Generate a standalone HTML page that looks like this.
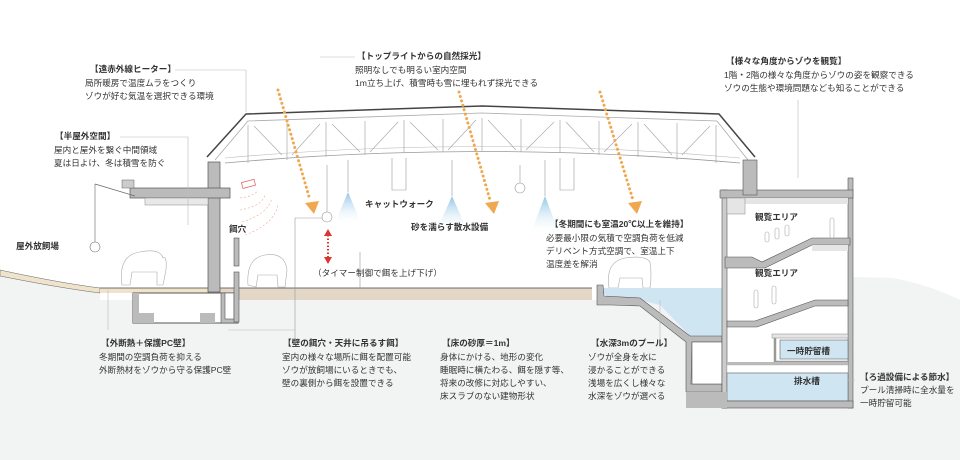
<!DOCTYPE html>
<html><head><meta charset="utf-8"><style>
html,body{margin:0;padding:0;background:#fff}
svg{display:block}
text{font-family:"Liberation Sans","Noto Sans CJK JP",sans-serif;font-size:8.6px;fill:#333}
.b{font-weight:bold}
</style></head><body>
<svg width="960" height="460" viewBox="0 0 960 460" xmlns="http://www.w3.org/2000/svg">
<defs>
<linearGradient id="sp" x1="0" y1="0" x2="0" y2="1"><stop offset="0" stop-color="#8ec4e6"/><stop offset="1" stop-color="#fff" stop-opacity="0"/></linearGradient>
</defs>
<!-- ground -->
<path d="M0,276 Q60,286 100,292 L100,460 L0,460Z" fill="#f2f3f3"/>
<rect x="100" y="300" width="760" height="160" fill="#f2f3f3"/>
<path d="M853,277 L893,278 Q930,285 960,300 L960,460 L853,460Z" fill="#f2f3f3"/>
<path d="M0,270 Q60,283 100,288 L100,293 Q60,288 0,276Z" fill="#efe3cc" stroke="#666" stroke-width="0.6"/>
<rect x="100" y="288" width="110" height="5" fill="#efe3cc"/>
<rect x="220" y="288" width="372" height="12" fill="#e3d7c7"/>
<line x1="100" y1="288" x2="592" y2="288" stroke="#444" stroke-width="0.8"/>
<!-- left basement -->
<rect x="133" y="293" width="105" height="30" fill="#fff" stroke="#555"/>
<rect x="133" y="293" width="6" height="30" fill="#bbb"/><rect x="232" y="293" width="6" height="30" fill="#bbb"/>
<rect x="139" y="313" width="15" height="10" fill="#bbb"/><rect x="200" y="313" width="15" height="10" fill="#bbb"/>
<rect x="221" y="293" width="17" height="30" fill="#bbb" stroke="#555" stroke-width="0.6"/>
<rect x="225" y="293" width="9" height="26" fill="#fff" stroke="#555" stroke-width="0.6"/>
<!-- column and canopy -->
<rect x="208" y="162" width="12" height="130" fill="#bbb" stroke="#555" stroke-width="0.7"/>
<rect x="130" y="188" width="100" height="10" fill="#bbb" stroke="#555" stroke-width="0.7"/>
<rect x="145" y="198" width="63" height="7" fill="#e8e8e8" stroke="#888" stroke-width="0.5"/>
<line x1="95" y1="184" x2="135" y2="196" stroke="#666" stroke-width="0.7"/>
<line x1="95" y1="184" x2="95" y2="242" stroke="#666" stroke-width="0.6"/>
<circle cx="95" cy="247" r="5" fill="#fff" stroke="#777" stroke-width="0.6"/>
<rect x="122" y="180" width="12" height="8" fill="#ccc" stroke="#666" stroke-width="0.5"/>
<!-- feed wall -->
<rect x="234" y="238" width="5" height="28" fill="#bbb" stroke="#555" stroke-width="0.6"/>
<rect x="234" y="272" width="5" height="50" fill="#bbb" stroke="#555" stroke-width="0.6"/>
<rect x="242" y="181" width="13" height="6" fill="#fff" stroke="#d55" stroke-width="0.7" transform="rotate(-15 248 184)"/>
<g fill="none" stroke="#f0a890" stroke-width="0.6" stroke-dasharray="2,2">
<path d="M240,198 Q255,196 258,190"/><path d="M240,210 Q262,206 265,195"/><path d="M242,222 Q268,214 272,198"/><path d="M245,235 Q275,224 278,204"/></g>
<!-- roof -->
<path d="M207,157 L246,114 L482,106 L719,114 L755,157" fill="none" stroke="#444" stroke-width="1.5"/>
<path d="M215,160 L248,121 L482,113 L717,121 L748,160" fill="none" stroke="#aaa" stroke-width="0.8"/>
<path d="M225,163 Q482,140 740,163" fill="none" stroke="#999" stroke-width="0.8"/>
<path d="M225,158 Q482,135 740,158" fill="none" stroke="#bbb" stroke-width="0.6"/>
<g stroke="#aaa" stroke-width="0.7" fill="none">
<path d="M248,125 L248,163 M287,123 L287,160 M326,122 L326,157 M365,121 L365,155 M404,120 L404,153 M443,119 L443,152 M482,118 L482,151 M521,119 L521,152 M560,120 L560,153 M599,121 L599,155 M638,122 L638,157 M677,123 L677,160 M716,125 L716,163"/>
<path d="M254,126 L282,155 M292,155 L320,124 M332,124 L360,152 M370,152 L398,122 M410,122 L438,150 M448,150 L476,120 M488,120 L516,150 M526,150 L554,122 M566,122 L594,152 M604,152 L632,124 M644,124 L672,155 M682,155 L710,126"/>
</g>
<!-- hanging elements -->
<g stroke="#999" stroke-width="0.6" fill="none">
<line x1="327" y1="165" x2="327" y2="212"/><circle cx="327" cy="217" r="5" fill="#fff"/>
<line x1="520" y1="165" x2="520" y2="183"/><circle cx="520" cy="188" r="5" fill="#fff"/>
<line x1="348" y1="160" x2="348" y2="192"/><line x1="452" y1="160" x2="452" y2="196"/><line x1="545" y1="160" x2="545" y2="196"/>
<path d="M392,158 L392,190 L406,190 L406,158"/><path d="M560,158 L560,190 L574,190 L574,158"/>
<line x1="360" y1="252" x2="360" y2="288"/>
<line x1="295" y1="218" x2="322" y2="218"/><line x1="295" y1="218" x2="295" y2="340"/>
</g>
<polygon points="348,192 334,225 362,225" fill="url(#sp)"/>
<polygon points="452,196 436,232 468,232" fill="url(#sp)"/>
<polygon points="545,196 530,235 560,235" fill="url(#sp)"/>
<!-- orange arrows -->
<g stroke="#f0a850" stroke-width="3" stroke-dasharray="0.1,4.5" stroke-linecap="round" fill="none">
<line x1="278" y1="90" x2="310" y2="200"/><line x1="459" y1="92" x2="490" y2="200"/><line x1="600" y1="92" x2="633" y2="200"/></g>
<g fill="#f0a850"><polygon points="305,203 319,201 314,214"/><polygon points="485,203 499,201 494,214"/><polygon points="628,203 642,201 637,214"/></g>
<!-- red arrow -->
<line x1="328" y1="235" x2="328" y2="258" stroke="#d33" stroke-width="2" stroke-dasharray="1.5,2"/>
<polygon points="324,236 332,236 328,229" fill="#d33"/><polygon points="324,257 332,257 328,264" fill="#d33"/>
<!-- elephants (outlines) -->
<g fill="#fff" stroke="#aaa" stroke-width="0.6">
<path d="M122,285 Q118,255 140,252 Q160,248 163,258 Q167,255 166,270 L163,285 L157,285 L157,272 L132,272 L130,285Z"/>
<path d="M248,285 Q246,258 265,255 Q285,252 287,270 L285,287 L278,287 L277,275 L258,275 L256,287Z"/>
<path d="M609,288 Q605,262 625,258 Q645,255 650,262 Q652,275 650,288 L643,288 L642,278 L620,278 L618,288Z"/>
</g>
<!-- pool -->
<path d="M597,288 L722,288 L722,336 L690,336 L660,305 L640,300 L612,300Z" fill="#cfe5f1"/>
<path d="M597,285 L603,285 L604,296 L640,298 L690,336 L722,336 L722,342 L692,342 L691,384 L722,384 L722,392 L686,392 L686,342 L640,306 L612,305 L597,305Z" fill="#bbb" stroke="#555" stroke-width="0.6"/>
<rect x="692" y="342" width="30" height="42" fill="#fff" stroke="#555" stroke-width="0.6"/>
<!-- right building -->
<rect x="722" y="190" width="131" height="218" fill="#fff"/>
<rect x="722" y="190" width="5" height="218" fill="#ccc" stroke="#555" stroke-width="0.6"/>
<rect x="848" y="178" width="5" height="230" fill="#bbb" stroke="#555" stroke-width="0.6"/>
<rect x="720" y="190" width="133" height="8" fill="#bbb" stroke="#555" stroke-width="0.6"/>
<rect x="730" y="198" width="118" height="6" fill="#e5e5e5"/>
<rect x="743" y="160" width="14" height="35" fill="#bbb" stroke="#555" stroke-width="0.6"/>
<rect x="727" y="198" width="18" height="16" fill="#e5e5e5" stroke="#888" stroke-width="0.5"/>
<path d="M725,257 L752,257 L762,262 L812,238 L850,238 L850,245 L812,245 L765,268 L725,268Z" fill="#bbb" stroke="#555" stroke-width="0.6"/>
<rect x="812" y="245" width="36" height="6" fill="#e5e5e5"/>
<path d="M727,321 L755,321 L815,300 L848,300 L848,306 L815,306 L757,327 L727,327Z" fill="#bbb" stroke="#555" stroke-width="0.6"/>
<rect x="772" y="334" width="76" height="4" fill="#e5e5e5" stroke="#888" stroke-width="0.5"/>
<path d="M775,338 L775,362 L848,362" fill="none" stroke="#999" stroke-width="2.5"/>
<rect x="780" y="340" width="68" height="19" fill="#cfe5f1" stroke="#666" stroke-width="0.6"/>
<rect x="727" y="362" width="121" height="3" fill="#bbb"/>
<rect x="727" y="365" width="121" height="8" fill="#fff" stroke="#aaa" stroke-width="0.4"/>
<rect x="727" y="373" width="121" height="28" fill="#cfe5f1" stroke="#666" stroke-width="0.6"/>
<rect x="722" y="401" width="131" height="7" fill="#bbb" stroke="#555" stroke-width="0.6"/>
<rect x="686" y="392" width="41" height="16" fill="#bbb"/>
<g stroke="#aaa" stroke-width="0.6" fill="#fff">
<rect x="765" y="232" width="4" height="10" rx="2"/><rect x="775" y="228" width="4" height="11" rx="2"/><rect x="785" y="225" width="4" height="11" rx="2"/><rect x="830" y="218" width="4" height="20" rx="2"/>
<rect x="754" y="290" width="4" height="18" rx="2"/><rect x="772" y="286" width="4" height="18" rx="2"/></g>
<!-- leader lines -->
<g stroke="#bbb" stroke-width="0.6" fill="none">
<polyline points="175,70 246,70 246,112"/><polyline points="120,137 188,137 188,225"/>
<polyline points="320,57 355,57"/><polyline points="798,100 798,178"/>
<line x1="108" y1="290" x2="108" y2="330"/><polyline points="228,330 295,330 295,340"/>
<line x1="855" y1="380" x2="848" y2="380"/><line x1="660" y1="300" x2="660" y2="340"/>
</g>
<!-- texts -->
<text x="90" y="72" class="b">【遠赤外線ヒーター】</text>
<text x="85" y="86">局所暖房で温度ムラをつくり</text>
<text x="85" y="99">ゾウが好む気温を選択できる環境</text>
<text x="55" y="139" class="b">【半屋外空間】</text>
<text x="54" y="153">屋内と屋外を繋ぐ中間領域</text>
<text x="54" y="166">夏は日よけ、冬は積雪を防ぐ</text>
<text x="16" y="249" class="b">屋外放飼場</text>
<text x="357" y="59" class="b">【トップライトからの自然採光】</text>
<text x="355" y="73">照明なしでも明るい室内空間</text>
<text x="355" y="86">1m立ち上げ、積雪時も雪に埋もれず採光できる</text>
<text x="726" y="64" class="b">【様々な角度からゾウを観覧】</text>
<text x="724" y="78">1階・2階の様々な角度からゾウの姿を観察できる</text>
<text x="724" y="91">ゾウの生態や環境問題なども知ることができる</text>
<text x="229" y="232" class="b">餌穴</text>
<text x="365" y="207" class="b">キャットウォーク</text>
<text x="411" y="230" class="b">砂を濡らす散水設備</text>
<text x="313" y="276">（タイマー制御で餌を上げ下げ）</text>
<text x="550" y="227" class="b">【冬期間にも室温20℃以上を維持】</text>
<text x="546" y="241">必要最小限の気積で空調負荷を低減</text>
<text x="546" y="254">デリベント方式空調で、室温上下</text>
<text x="546" y="267">温度差を解消</text>
<text x="755" y="220" class="b">観覧エリア</text>
<text x="755" y="276" class="b">観覧エリア</text>
<text x="787" y="354" class="b">一時貯留槽</text>
<text x="794" y="384" class="b">排水槽</text>
<text x="101" y="346" class="b">【外断熱＋保護PC壁】</text>
<text x="99" y="360">冬期間の空調負荷を抑える</text>
<text x="99" y="373">外断熱材をゾウから守る保護PC壁</text>
<text x="283" y="346" class="b">【壁の餌穴・天井に吊るす餌】</text>
<text x="282" y="360">室内の様々な場所に餌を配置可能</text>
<text x="282" y="373">ゾウが放飼場にいるときでも、</text>
<text x="282" y="386">壁の裏側から餌を設置できる</text>
<text x="442" y="346" class="b">【床の砂厚＝1m】</text>
<text x="440" y="360">身体にかける、地形の変化</text>
<text x="440" y="373">睡眠時に横たわる、餌を隠す等、</text>
<text x="440" y="386">将来の改修に対応しやすい、</text>
<text x="440" y="399">床スラブのない建物形状</text>
<text x="591" y="346" class="b">【水深3mのプール】</text>
<text x="588" y="360">ゾウが全身を水に</text>
<text x="588" y="373">浸かることができる</text>
<text x="588" y="386">浅場を広くし様々な</text>
<text x="588" y="399">水深をゾウが選べる</text>
<text x="860" y="380" class="b">【ろ過設備による節水】</text>
<text x="860" y="393">プール清掃時に全水量を</text>
<text x="860" y="406">一時貯留可能</text>
</svg>
</body></html>
